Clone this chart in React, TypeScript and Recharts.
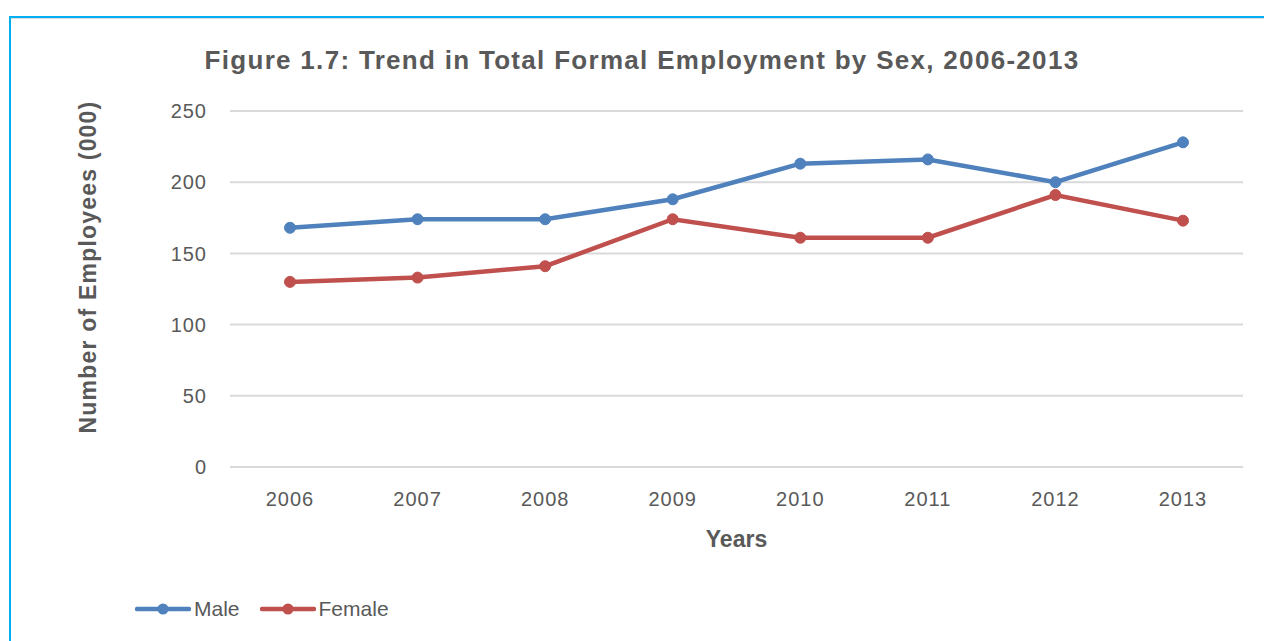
import React from "react";
import { LineChart, Line, XAxis, YAxis, CartesianGrid, Label } from "recharts";

const years = ["2006", "2007", "2008", "2009", "2010", "2011", "2012", "2013"];
const male = [168, 174, 174, 188, 213, 216, 200, 228];
const female = [130, 133, 141, 174, 161, 161, 191, 173];
const yTicks = [0, 50, 100, 150, 200, 250];

const data = years.map((y, i) => ({ year: y, Male: male[i], Female: female[i] }));

const FONT = "'Liberation Sans', Arial, sans-serif";
const GREY = "#595959";
const BLUE = "#4F81BD";
const RED = "#C0504D";

const LegendBox = () => (
  <div
    style={{
      position: "absolute",
      left: 135,
      top: 597,
      display: "flex",
      alignItems: "center",
      fontFamily: FONT,
      fontSize: 21,
      color: GREY,
    }}
  >
    {[["Male", BLUE], ["Female", RED]].map(([name, c]) => (
      <div key={name} style={{ display: "flex", alignItems: "center", marginRight: 20 }}>
        <svg width={56} height={14}>
          <line x1={2} y1={7} x2={54} y2={7} stroke={c} strokeWidth={4.5} strokeLinecap="round" />
          <circle cx={28} cy={7} r={5.5} fill={c} />
        </svg>
        <span style={{ marginLeft: 3 }}>{name}</span>
      </div>
    ))}
  </div>
);

export default function App() {
  return (
    <div style={{ position: "absolute", left: 0, top: 0, width: 1264, height: 641, background: "#fff", overflow: "hidden" }}>
      <div style={{ position: "absolute", left: 9, top: 16, width: 1255, height: 2, background: "#00B0F0" }} />
      <div style={{ position: "absolute", left: 11, top: 18, width: 1253, height: 1, background: "#dcdcdc" }} />
      <div style={{ position: "absolute", left: 9, top: 16, width: 2, height: 625, background: "#00B0F0" }} />
      <div
        style={{
          position: "absolute",
          left: 0,
          width: 1284,
          top: 45,
          textAlign: "center",
          fontFamily: FONT,
          fontWeight: "bold",
          fontSize: 26,
          letterSpacing: 1.3,
          color: GREY,
        }}
      >
        Figure 1.7: Trend in Total Formal Employment by Sex, 2006-2013
      </div>
      <LineChart width={1264} height={641} data={data} margin={{ top: 111, right: 21, left: 160, bottom: 144 }}>
        <CartesianGrid vertical={false} stroke="#d9d9d9" strokeWidth={2} />
        <XAxis
          dataKey="year"
          axisLine={false}
          tickLine={false}
          height={30}
          padding={{ left: 60, right: 60 }}
          tick={{ fill: GREY, fontSize: 20, fontFamily: FONT, letterSpacing: 1 }}
          tickMargin={19}
        >
          <Label value="Years" position="insideBottom" offset={-50} fill={GREY} fontSize={23} fontWeight="bold" fontFamily={FONT} />
        </XAxis>
        <YAxis
          domain={[0, 250]}
          ticks={yTicks}
          axisLine={false}
          tickLine={false}
          width={70}
          tick={{ fill: GREY, fontSize: 20, fontFamily: FONT, letterSpacing: 1 }}
          tickMargin={17}
        >
          <Label
            value="Number of Employees  (000)"
            angle={-90}
            position="insideLeft"
            offset={-70}
            style={{ textAnchor: "middle", letterSpacing: 1.2 }}
            fill={GREY}
            fontSize={23}
            fontWeight="bold"
            fontFamily={FONT}
            dy={-22}
            dx={-2}
          />
        </YAxis>
        <Line dataKey="Male" stroke={BLUE} strokeWidth={4.5} dot={{ r: 5.5, fill: BLUE, stroke: BLUE, strokeWidth: 1 }} isAnimationActive={false} />
        <Line dataKey="Female" stroke={RED} strokeWidth={4.5} dot={{ r: 5.5, fill: RED, stroke: RED, strokeWidth: 1 }} isAnimationActive={false} />
      </LineChart>
      <LegendBox />
    </div>
  );
}
